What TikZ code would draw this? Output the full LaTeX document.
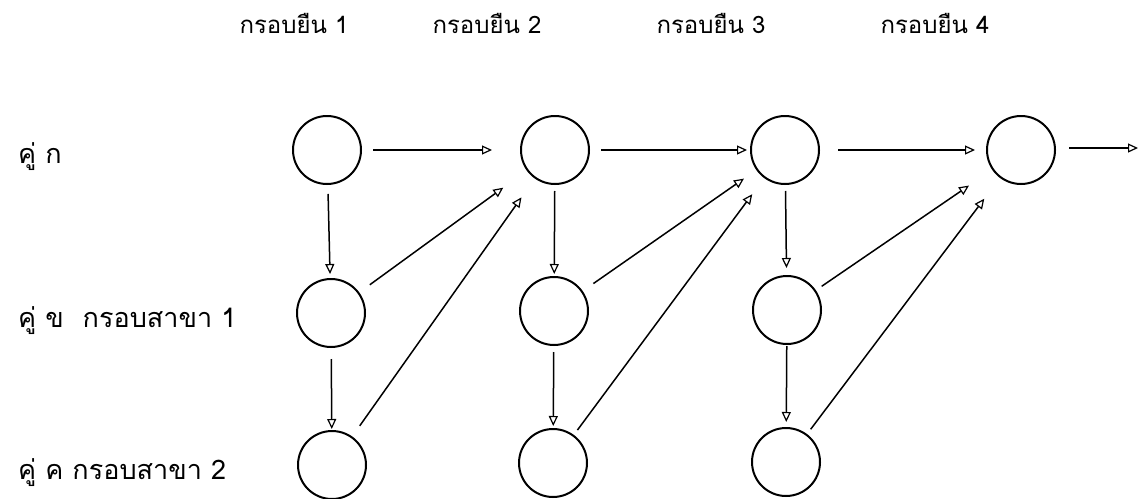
\documentclass[tikz,border=0pt]{standalone}
\usepackage{fontspec}
\setmainfont{Liberation Sans}
\newfontfamily\thaifont[Script=Thai]{Loma}
\usetikzlibrary{arrows.meta}
\begin{document}
\begin{tikzpicture}[x=1pt,y=-1pt,
  state/.style={circle,draw,line width=2pt,minimum size=68pt,inner sep=0pt},
  link/.style={line width=1.5pt,-{Triangle[open,length=10pt,width=9pt,line width=1.2pt]}},
  head/.style={font=\thaifont\fontsize{24}{28}\selectfont,inner sep=0pt},
  side/.style={font=\thaifont\fontsize{27}{30}\selectfont,inner sep=0pt,anchor=base west}]
\useasboundingbox (0,0) rectangle (1140,498);

% column headings
\node[head,anchor=base] (h1) at (294,33) {กรอบยืน 1};
\node[head,anchor=base] (h2) at (487,33) {กรอบยืน 2};
\node[head,anchor=base] (h3) at (711,33) {กรอบยืน 3};
\node[head,anchor=base] (h4) at (935,33) {กรอบยืน 4};

% row labels
\node[side] (r1) at (18,163) {คู่ ก};
\node[side] (r2) at (18,327) {คู่ ข\hspace{0.7em}กรอบสาขา 1};
\node[side] (r3) at (18,479) {คู่ ค กรอบสาขา 2};

% frames
\node[state] (a1) at (327,150) {};
\node[state] (a2) at (555,150) {};
\node[state] (a3) at (785,150) {};
\node[state] (a4) at (1021,150) {};
\node[state] (b1) at (331,313) {};
\node[state] (b2) at (554,311) {};
\node[state] (b3) at (787,310) {};
\node[state] (c1) at (332,465) {};
\node[state] (c2) at (553,463) {};
\node[state] (c3) at (786,462) {};
\coordinate (out) at (1138,148);

% main chain
\draw[link,shorten <=11pt,shorten >=28pt] (a1) -- (a2);
\draw[link,shorten <=11pt,shorten >=3pt] (a2) -- (a3);
\draw[link,shorten <=18pt,shorten >=11pt] (a3) -- (a4);
\draw[link,shorten <=13pt] (a4.east |- out) -- (out);

% downward links
\draw[link,shorten <=9pt,shorten >=4pt] (a1) -- (b1);
\draw[link,shorten <=11pt,shorten >=1pt] (b1) -- (c1);
\draw[link,shorten <=6pt,shorten >=2pt] (a2) -- (b2);
\draw[link,shorten <=6pt,shorten >=2pt] (b2) -- (c2);
\draw[link,shorten <=6pt,shorten >=7pt] (a3) -- (b3);
\draw[link,shorten <=1pt,shorten >=5pt] (b3) -- (c3);

% diagonal links to the next column
\draw[link,shorten <=13pt,shorten >=29pt] (b1) -- (a2);
\draw[link,shorten <=13pt,shorten >=23pt] (c1) -- (a2);
\draw[link,shorten <=13pt,shorten >=15pt] (b2) -- (a3);
\draw[link,shorten <=6pt,shorten >=20pt] (c2) -- (a3);
\draw[link,shorten <=7pt,shorten >=28pt] (b3) -- (a4);
\draw[link,shorten <=6pt,shorten >=26pt] (c3) -- (a4);
\end{tikzpicture}
\end{document}
